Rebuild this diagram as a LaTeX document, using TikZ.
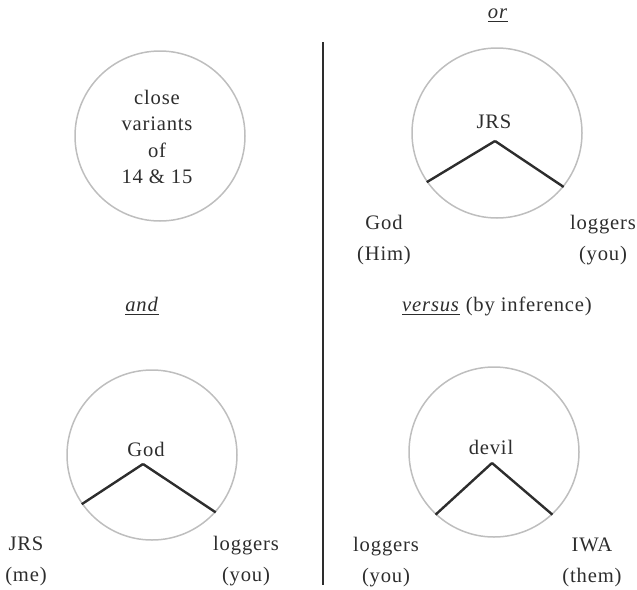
\documentclass[tikz,border=0pt]{standalone}
\usepackage{fontspec}
\setmainfont[LetterSpace=4]{Liberation Serif}
\definecolor{ring_grey}{RGB}{190, 190, 190}
\definecolor{ink}{RGB}{45, 45, 45}
\tikzstyle{ring}=[circle,draw=ring_grey,line width=0.75pt,
  minimum size=85pt,inner sep=0pt]
\tikzstyle{txt}=[text=ink,font=\fontsize{10.3}{15.5}\selectfont,
  align=center,inner sep=0pt]
\tikzstyle{arm}=[draw=ink,line width=1.2pt]
\tikzstyle{rule}=[draw=ink,line width=1pt]

\begin{document}
\begin{tikzpicture}[x=0.5pt,y=-0.5pt]
    \useasboundingbox (0,0) rectangle (637,589);
    % top left
    \node [style=ring] (r1) at (160,136) {};
    \node [style=txt, font=\fontsize{10.3}{13.25}\selectfont] (t1) at (157,137)
      {close\\variants\\of\\14 \& 15};
    % top right
    \node [style=txt] (or) at (498,16) {\underline{\textit{or}}};
    \node [style=ring] (r2) at (497,133) {};
    \node [style=txt] (t2) at (494,122) {JRS};
    \coordinate (a2) at (495,141);
    \node [style=txt] (l2) at (384,240) {God\\(Him)};
    \node [style=txt] (m2) at (603,240) {loggers\\(you)};
    % bottom left
    \node [style=txt] (and) at (142,306) {\underline{\textit{and}}};
    \node [style=ring] (r3) at (152,455) {};
    \node [style=txt] (t3) at (146,449) {God};
    \coordinate (a3) at (143,464);
    \node [style=txt] (l3) at (26,561) {JRS\\(me)};
    \node [style=txt] (m3) at (246,561) {loggers\\(you)};
    % bottom right
    \node [style=txt] (vs) at (497,306) {\underline{\textit{versus}} (by inference)};
    \node [style=ring] (r4) at (494,452) {};
    \node [style=txt] (t4) at (491,447) {devil};
    \coordinate (a4) at (492,463);
    \node [style=txt] (l4) at (386,562) {loggers\\(you)};
    \node [style=txt] (m4) at (592,562) {IWA\\(them)};
    % divider
    \coordinate (vtop) at (323,42);
    \coordinate (vbot) at (323,585);
    \draw [style=rule] (vtop) to (vbot);
    % arms
    \draw [style=arm] (r2.215) to (a2);
    \draw [style=arm] (a2) to (r2.321);
    \draw [style=arm] (r3.215) to (a3);
    \draw [style=arm] (a3) to (r3.318);
    \draw [style=arm] (r4.227) to (a4);
    \draw [style=arm] (a4) to (r4.313);
\end{tikzpicture}
\end{document}
